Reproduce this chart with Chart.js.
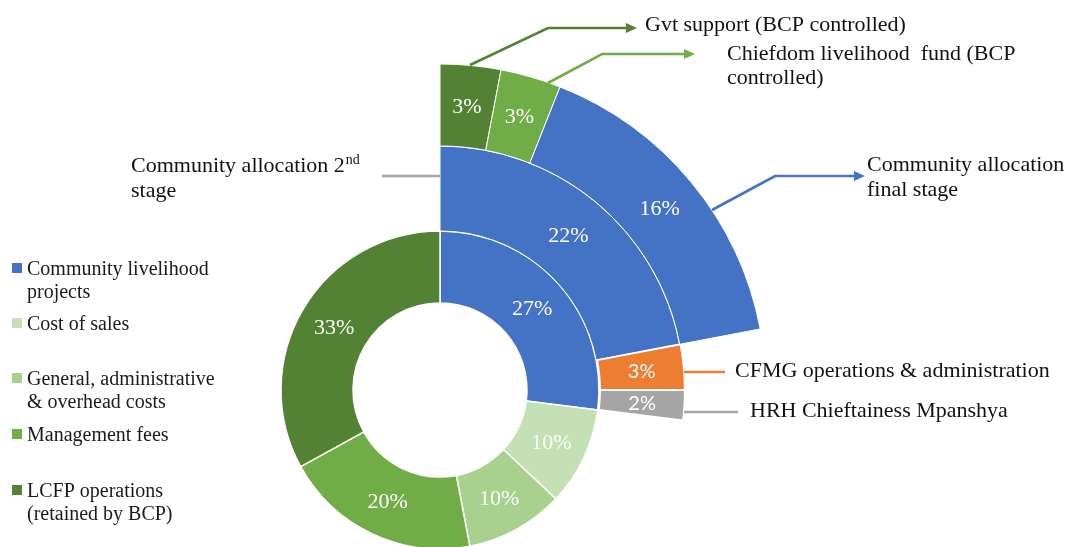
<!DOCTYPE html>
<html>
<head>
<meta charset="utf-8">
<script src="https://cdn.jsdelivr.net/npm/chart.js@4.4.1/dist/chart.umd.min.js"></script>
<style>
html,body{margin:0;padding:0;background:#ffffff;overflow:hidden;}
canvas{display:block;}
</style>
</head>
<body>
<canvas id="c" width="1067" height="547"></canvas>
<script>
// ---------- DATA ----------
const innerLabels = [
  ['Community livelihood', 'projects'],
  ['Cost of sales'],
  ['General, administrative', '& overhead costs'],
  ['Management fees'],
  ['LCFP operations', '(retained by BCP)']
];
const innerValues = [27, 10, 10, 20, 33];

const middleLabels = [
  ['Community allocation 2nd', 'stage'],
  ['CFMG operations & administration'],
  ['HRH Chieftainess Mpanshya']
];
const middleValues = [22, 3, 2];

const outerLabels = [
  ['Gvt support (BCP controlled)'],
  ['Chiefdom livelihood  fund (BCP', 'controlled)'],
  ['Community allocation', 'final stage']
];
const outerValues = [3, 3, 16];

// ---------- STYLES ----------
const innerColors  = ['#4472C4', '#C5E0B4', '#A9D18E', '#70AD47', '#548235'];
const middleColors = ['#4472C4', '#ED7D31', '#A5A5A5'];
const outerColors  = ['#548235', '#70AD47', '#4472C4'];
const SERIF = '"Liberation Serif", "Times New Roman", serif';
const SANS  = 'Lato, "Noto Sans", sans-serif';
const TRANSPARENT = 'rgba(0,0,0,0)';

const sum = a => a.reduce((s, v) => s + v, 0);
const total = sum(innerValues);

// label fonts per ring (visible segments)
const outerLabelFonts  = outerValues.map(() => '22px ' + SERIF);
const middleLabelFonts = ['22px ' + SERIF, '20px ' + SANS, '20px ' + SANS];
const innerLabelFonts  = innerValues.map(() => '22px ' + SERIF);

// annotation layout (text anchor = left x, first baseline y)
const annotations = [
  { ring: 0, idx: 0, x: 645, y: 31, lh: 24, color: '#548235', arrow: true,
    path: [[470, 65], [548, 28], [637, 28]] },
  { ring: 0, idx: 1, x: 727, y: 60, lh: 24, color: '#70AD47', arrow: true,
    path: [[548, 83], [602, 54], [695, 54]] },
  { ring: 0, idx: 2, x: 867, y: 171, lh: 25, color: '#4472C4', arrow: true,
    path: [[712, 210], [775, 176], [865, 176]] },
  { ring: 1, idx: 0, x: 131, y: 172, lh: 25, color: '#A5A5A5', arrow: false,
    path: [[382, 176], [440, 176]] },
  { ring: 1, idx: 1, x: 735, y: 377, lh: 24, color: '#ED7D31', arrow: false,
    path: [[684, 372], [725, 372]] },
  { ring: 1, idx: 2, x: 750, y: 417, lh: 24, color: '#A5A5A5', arrow: false,
    path: [[684, 412], [738, 412]] }
];
const ringLabels = [outerLabels, middleLabels];

// legend layout
const legendLayout = { x: 12, textX: 27, box: 10, lh: 22.5,
  baselines: [275, 330, 385, 441, 497] };

// ---------- PLUGINS ----------
function drawTextWithSup(ctx, text, x, y, size) {
  const m = text.match(/^(.*\d)(st|nd|rd|th)$/);
  ctx.font = size + 'px ' + SERIF;
  if (!m) { ctx.fillText(text, x, y); return; }
  ctx.fillText(m[1], x, y);
  const w = ctx.measureText(m[1]).width;
  ctx.font = Math.round(size * 0.62) + 'px ' + SERIF;
  ctx.fillText(m[2], x + w + 1, y - size * 0.36);
}

const sliceLabelPlugin = {
  id: 'sliceLabels',
  afterDatasetsDraw(chart) {
    const ctx = chart.ctx;
    ctx.save();
    ctx.fillStyle = '#ffffff';
    ctx.textAlign = 'center';
    ctx.textBaseline = 'middle';
    chart.data.datasets.forEach((ds, di) => {
      const meta = chart.getDatasetMeta(di);
      ds.realValues.forEach((v, i) => {
        const arc = meta.data[i];
        const p = arc.getCenterPoint();
        ctx.font = ds.labelFonts[i];
        ctx.fillText(v + '%', p.x, p.y + 1);
      });
    });
    ctx.restore();
  }
};

const annotationPlugin = {
  id: 'annotations',
  afterDraw(chart) {
    const ctx = chart.ctx;
    ctx.save();
    // leader lines
    annotations.forEach(a => {
      ctx.strokeStyle = a.color;
      ctx.fillStyle = a.color;
      ctx.lineWidth = 2.6;
      ctx.lineJoin = 'miter';
      const pts = a.path.slice();
      let tip = null, dirx = 0, diry = 0;
      if (a.arrow) {
        const p1 = pts[pts.length - 2], p2 = pts[pts.length - 1];
        const L = Math.hypot(p2[0] - p1[0], p2[1] - p1[1]);
        dirx = (p2[0] - p1[0]) / L; diry = (p2[1] - p1[1]) / L;
        tip = p2;
        pts[pts.length - 1] = [p2[0] - dirx * 9, p2[1] - diry * 9];
      }
      ctx.beginPath();
      ctx.moveTo(pts[0][0], pts[0][1]);
      for (let i = 1; i < pts.length; i++) ctx.lineTo(pts[i][0], pts[i][1]);
      ctx.stroke();
      if (tip) {
        const bx = tip[0] - dirx * 11, by = tip[1] - diry * 11;
        ctx.beginPath();
        ctx.moveTo(tip[0], tip[1]);
        ctx.lineTo(bx - diry * 5, by + dirx * 5);
        ctx.lineTo(bx + diry * 5, by - dirx * 5);
        ctx.closePath();
        ctx.fill();
      }
    });
    // annotation texts
    ctx.fillStyle = '#111111';
    ctx.textAlign = 'left';
    ctx.textBaseline = 'alphabetic';
    annotations.forEach(a => {
      const lines = ringLabels[a.ring][a.idx];
      lines.forEach((ln, k) => drawTextWithSup(ctx, ln, a.x, a.y + k * a.lh, 22));
    });
    // legend
    innerLabels.forEach((lines, i) => {
      const b = legendLayout.baselines[i];
      ctx.fillStyle = innerColors[i];
      ctx.fillRect(legendLayout.x, b - 12, legendLayout.box, legendLayout.box);
      ctx.fillStyle = '#1a1a1a';
      ctx.font = '20px ' + SERIF;
      lines.forEach((ln, k) => ctx.fillText(ln, legendLayout.textX, b + k * legendLayout.lh));
    });
    ctx.restore();
  }
};

// ---------- CHART ----------
const outerFill = total - sum(outerValues);
const middleFill = total - sum(middleValues);

new Chart(document.getElementById('c'), {
  type: 'doughnut',
  data: {
    labels: innerLabels.map(l => l.join(' ')),
    datasets: [
      {
        data: [...outerValues, outerFill],
        realValues: outerValues,
        labelFonts: outerLabelFonts,
        backgroundColor: [...outerColors, TRANSPARENT],
        borderColor: '#ffffff',
        borderWidth: [1, 1, 1, 0],
        weight: 82,
        clip: false
      },
      {
        data: [...middleValues, middleFill],
        realValues: middleValues,
        labelFonts: middleLabelFonts,
        backgroundColor: [...middleColors, TRANSPARENT],
        borderColor: '#ffffff',
        borderWidth: [1, 2, 2, 0],
        offset: [0, 2, 2, 0],
        weight: 85,
        clip: false
      },
      {
        data: innerValues,
        realValues: innerValues,
        labelFonts: innerLabelFonts,
        backgroundColor: innerColors,
        borderColor: '#ffffff',
        borderWidth: 1.5,
        weight: 72,
        clip: false
      }
    ]
  },
  options: {
    responsive: false,
    animation: false,
    events: [],
    radius: 326,
    cutout: (87 / 326 * 100).toFixed(2) + '%',
    layout: { padding: { left: 283, right: 470, top: 233, bottom: 0 } },
    plugins: {
      legend: { display: false },
      tooltip: { enabled: false },
      title: { display: false }
    }
  },
  plugins: [sliceLabelPlugin, annotationPlugin]
});
</script>
</body>
</html>
